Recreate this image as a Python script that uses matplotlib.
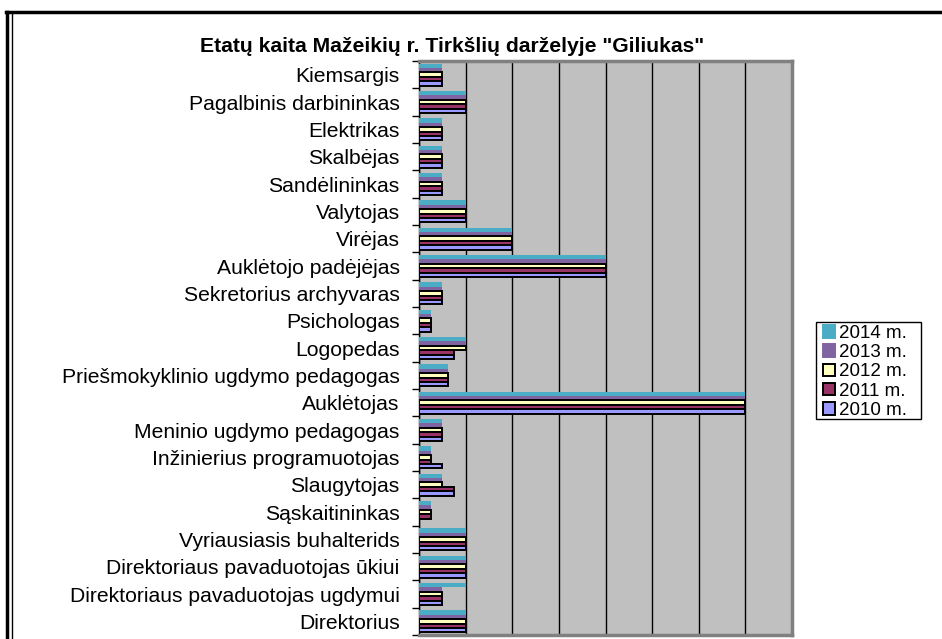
import matplotlib.pyplot as plt
from matplotlib.lines import Line2D
from matplotlib.patches import Patch, Rectangle
import numpy as np

plt.rcParams['font.family'] = ['Liberation Sans', 'DejaVu Sans']

# positions, top to bottom as in the chart
categories = ['Kiemsargis', 'Pagalbinis darbininkas', 'Elektrikas', 'Skalbėjas',
              'Sandėlininkas', 'Valytojas', 'Virėjas', 'Auklėtojo padėjėjas',
              'Sekretorius archyvaras', 'Psichologas', 'Logopedas',
              'Priešmokyklinio ugdymo pedagogas', 'Auklėtojas',
              'Meninio ugdymo pedagogas', 'Inžinierius programuotojas',
              'Slaugytojas', 'Sąskaitininkas', 'Vyriausiasis buhalterids',
              'Direktoriaus pavaduotojas ūkiui', 'Direktoriaus pavaduotojas ugdymui',
              'Direktorius']

y2014 = [1, 2, 1, 1, 1, 2, 4, 8, 1, 0.5, 2, 1.25, 14, 1, 0.5, 1, 0.5, 2, 2, 2, 2]
y2013 = [1, 2, 1, 1, 1, 2, 4, 8, 1, 0.5, 2, 1.25, 14, 1, 0.5, 1, 0.5, 2, 2, 1, 2]
y2012 = [1, 2, 1, 1, 1, 2, 4, 8, 1, 0.5, 2, 1.25, 14, 1, 0.5, 1, 0.5, 2, 2, 1, 2]
y2011 = [1, 2, 1, 1, 1, 2, 4, 8, 1, 0.5, 1.5, 1.25, 14, 1, 0.5, 1.5, 0.5, 2, 2, 1, 2]
y2010 = [1, 2, 1, 1, 1, 2, 4, 8, 1, 0.5, 1.5, 1.25, 14, 1, 1, 1.5, 0, 2, 2, 1, 2]

series = [('2014 m.', y2014, '#4BACC6', 'none'),
          ('2013 m.', y2013, '#8064A2', 'none'),
          ('2012 m.', y2012, '#FFFFC0', 'black'),
          ('2011 m.', y2011, '#993366', 'black'),
          ('2010 m.', y2010, '#9999FF', 'black')]

fig = plt.figure(figsize=(9.42, 6.39), dpi=100)
ax = fig.add_axes([419/942, 1-635/639, 373/942, 574/639])
ax.set_facecolor('#C0C0C0')

n = len(categories)
pos = np.arange(n)[::-1]  # first category on top
h = 0.16
for i, (name, vals, col, ec) in enumerate(series):
    off = (i - 2) * h
    ax.barh(pos - off, vals, height=h, color=col, edgecolor=ec,
            linewidth=1.4 if ec != 'none' else 0, zorder=3)

ax.set_xlim(0, 16)
ax.set_ylim(-0.5, n - 0.5)
ax.set_xticks(np.arange(0, 17, 2))
ax.set_xticklabels([])
ax.tick_params(axis='x', length=0)
ax.grid(axis='x', color='black', linewidth=1, zorder=1)
ax.set_axisbelow(True)

ax.set_yticks(pos)
ax.set_yticklabels(categories, fontsize=15.2)
ax.tick_params(axis='y', which='major', length=0, pad=14)
ax.set_yticks(np.arange(-0.5, n, 1), minor=True)
ax.tick_params(axis='y', which='minor', length=5, width=1, color='black')

for s in ['top', 'right', 'bottom']:
    ax.spines[s].set_color('#808080')
    ax.spines[s].set_linewidth(2.5)
ax.spines['left'].set_color('black')
ax.spines['left'].set_linewidth(1)

fig.text(452/942, 1-46/639, 'Etatų kaita Mažeikių r. Tirkšlių darželyje "Giliukas"',
         ha='center', va='center', fontsize=15.2, fontweight='bold')

# legend: entries without frame, frame drawn separately (wider on the right)
handles = [Patch(facecolor=c, edgecolor=('black' if e != 'none' else c), linewidth=1.4)
           for _, _, c, e in series]
leg = fig.legend(handles, [s[0] for s in series], loc='upper left',
                 bbox_to_anchor=(821/942, 1-323/639), fontsize=13.5, frameon=False,
                 borderpad=0.1, labelspacing=0.12,
                 handlelength=0.65, handleheight=0.65, handletextpad=0.2, borderaxespad=0)
fig.add_artist(Rectangle((816/942, 1-419/639), 105/942, 97/639, transform=fig.transFigure,
                         facecolor='none', edgecolor='black', linewidth=1))

# outer chart frame
fig.add_artist(Line2D([6/942, 1], [1-12/639, 1-12/639], color='black', linewidth=2.5))
fig.add_artist(Line2D([7/942, 7/942], [0, 1-12/639], color='black', linewidth=2.5))
fig.add_artist(Line2D([11.5/942, 11.5/942], [0, 1-13/639], color='black', linewidth=1))

fig.savefig('out.png', dpi=100)
